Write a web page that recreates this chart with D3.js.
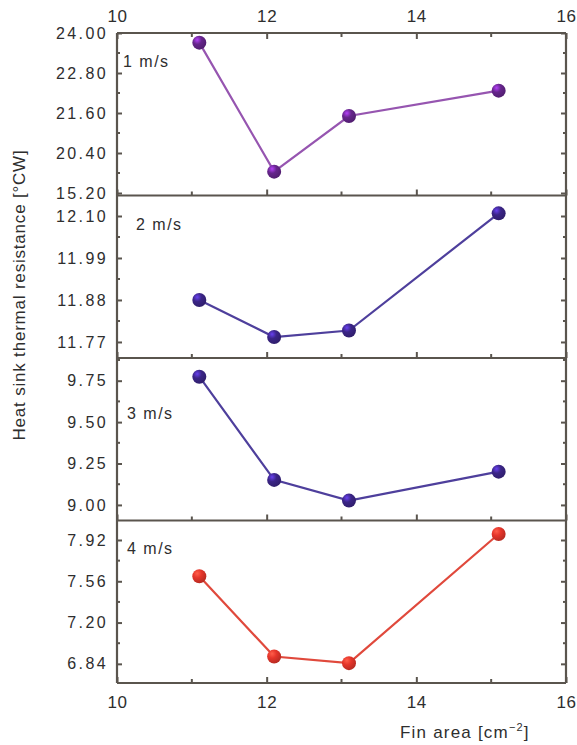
<!DOCTYPE html>
<html>
<head>
<meta charset="utf-8">
<script src="https://cdn.jsdelivr.net/npm/d3@7"></script>
<style>
  body { margin: 0; background: #fff; }
  text { font-family: "Liberation Sans", Arial, sans-serif; fill: #2e2e2e; }
</style>
</head>
<body>
<div class="chart"></div>
<script>
// fin area values (x) shared by all panels
const finArea = [11.1, 12.1, 13.1, 15.1];

// thermal resistance per air velocity
const speeds = ['1 m/s', '2 m/s', '3 m/s', '4 m/s'];
const res1 = [23.71, 19.84, 21.51, 22.27];
const res2 = [11.880, 11.783, 11.800, 12.107];
const res3 = [9.774, 9.151, 9.026, 9.201];
const res4 = [7.604, 6.904, 6.846, 7.972];

// y tick values and their printed labels
const ticks1 = [19.2, 20.4, 21.6, 22.8, 24.0];
const labels1 = ['15.20', '20.40', '21.60', '22.80', '24.00'];
const ticks2 = [11.77, 11.88, 11.99, 12.10];
const labels2 = ['11.77', '11.88', '11.99', '12.10'];
const ticks3 = [9.00, 9.25, 9.50, 9.75];
const labels3 = ['9.00', '9.25', '9.50', '9.75'];
const ticks4 = [6.84, 7.20, 7.56, 7.92];
const labels4 = ['6.84', '7.20', '7.56', '7.92'];

const xTicks = [10, 12, 14, 16];
const xMinor = [11, 13, 15];

const W = 577, H = 745;
const plotLeft = 117, plotRight = 566, plotTop = 33, plotBottom = 683;
const panelH = (plotBottom - plotTop) / 4;

const panels = [
  {label: speeds[0], values: res1, ticks: ticks1, labels: labels1, domain: [19.125, 24.0],
   line: '#9655b0', dot: '#66258c', lx: 123, ly: 34},
  {label: speeds[1], values: res2, ticks: ticks2, labels: labels2, domain: [11.728, 12.1537],
   line: '#4e3f9c', dot: '#3b2587', lx: 136, ly: 34},
  {label: speeds[2], values: res3, ticks: ticks3, labels: labels3, domain: [8.906, 9.887],
   line: '#4e3f9c', dot: '#3b2587', lx: 127, ly: 61},
  {label: speeds[3], values: res4, ticks: ticks4, labels: labels4, domain: [6.673, 8.090],
   line: '#e0493c', dot: '#e5352a', lx: 127, ly: 33}
];

const axisColor = '#5a554e';
const fontFamily = '"Liberation Sans", Arial, sans-serif';

const x = d3.scaleLinear().domain([10, 16]).range([plotLeft, plotRight]);

const svg = d3.select('.chart').append('svg')
  .attr('width', W)
  .attr('height', H);

const defs = svg.append('defs');
panels.forEach((p, i) => {
  const g = defs.append('radialGradient')
    .attr('id', `ball${i}`)
    .attr('cx', '35%').attr('cy', '30%').attr('r', '70%');
  g.append('stop').attr('offset', '0%').attr('stop-color', d3.color(p.dot).brighter(1.6));
  g.append('stop').attr('offset', '45%').attr('stop-color', p.dot);
  g.append('stop').attr('offset', '100%').attr('stop-color', d3.color(p.dot).darker(0.6));
});

panels.forEach((p, i) => {
  const y0 = plotTop + i * panelH;
  const y = d3.scaleLinear().domain(p.domain).range([y0 + panelH, y0]);
  const g = svg.append('g');

  // minor y ticks halfway between majors
  const step = p.ticks[1] - p.ticks[0];
  const minor = [];
  p.ticks.forEach(t => {
    [t - step / 2, t + step / 2].forEach(m => {
      if (m > p.domain[0] && m < p.domain[1] && !minor.some(v => Math.abs(v - m) < 1e-6)) minor.push(m);
    });
  });

  // left axis
  const yAxis = d3.axisLeft(y)
    .tickValues(p.ticks)
    .tickSize(-5)
    .tickPadding(9)
    .tickFormat((d, k) => p.labels[k]);
  const gl = g.append('g')
    .attr('transform', `translate(${plotLeft},0)`)
    .call(yAxis);
  gl.select('.domain').remove();
  gl.selectAll('line').attr('stroke', axisColor).attr('stroke-width', 2);
  gl.selectAll('text')
    .attr('font-size', 16)
    .attr('letter-spacing', '2.4px')
    .style('font-family', fontFamily)
    .attr('fill', '#2e2e2e');

  g.selectAll('.yminor-l')
    .data(minor)
    .enter().append('line')
      .attr('x1', plotLeft).attr('x2', plotLeft + 3)
      .attr('y1', d => y(d)).attr('y2', d => y(d))
      .attr('stroke', axisColor).attr('stroke-width', 2);

  // right axis ticks (mirrored, no labels)
  const gr = g.append('g')
    .attr('transform', `translate(${plotRight},0)`)
    .call(d3.axisRight(y).tickValues(p.ticks).tickSize(-5).tickFormat(''));
  gr.select('.domain').remove();
  gr.selectAll('line').attr('stroke', axisColor).attr('stroke-width', 2);
  g.selectAll('.yminor-r')
    .data(minor)
    .enter().append('line')
      .attr('x1', plotRight).attr('x2', plotRight - 3)
      .attr('y1', d => y(d)).attr('y2', d => y(d))
      .attr('stroke', axisColor).attr('stroke-width', 2);

  // bottom ticks of panel, pointing inward
  const gb = g.append('g')
    .attr('transform', `translate(0,${y0 + panelH})`)
    .call(d3.axisBottom(x).tickValues(xTicks).tickSize(-6).tickFormat(i === 3 ? d3.format('d') : ''));
  gb.select('.domain').remove();
  gb.selectAll('line').attr('stroke', axisColor).attr('stroke-width', 2);
  gb.selectAll('text')
    .attr('font-size', 17)
    .attr('letter-spacing', '0.6px')
    .attr('dy', '1.3em')
    .style('font-family', fontFamily)
    .attr('fill', '#2e2e2e');
  g.selectAll('.xminor')
    .data(xMinor)
    .enter().append('line')
      .attr('x1', d => x(d)).attr('x2', d => x(d))
      .attr('y1', y0 + panelH).attr('y2', y0 + panelH - 4)
      .attr('stroke', axisColor).attr('stroke-width', 2);

  // line + balls
  const pts = finArea.map((f, k) => ({f: f, v: p.values[k]}));
  const line = d3.line().x(d => x(d.f)).y(d => y(d.v));
  g.append('path')
    .attr('d', line(pts))
    .attr('fill', 'none')
    .attr('stroke', p.line)
    .attr('stroke-width', 2.2);
  g.selectAll('circle')
    .data(pts)
    .enter().append('circle')
      .attr('cx', d => x(d.f))
      .attr('cy', d => y(d.v))
      .attr('r', 7)
      .attr('fill', `url(#ball${i})`);

  g.append('text')
    .attr('x', p.lx)
    .attr('y', y0 + p.ly)
    .attr('font-size', 16)
    .attr('letter-spacing', '1.5px')
    .text(p.label);

  // horizontal frame line below panel
  svg.append('line')
    .attr('x1', plotLeft).attr('x2', plotRight)
    .attr('y1', y0 + panelH).attr('y2', y0 + panelH)
    .attr('stroke', axisColor).attr('stroke-width', 2.2);
});

// top axis of the first panel
const gt = svg.append('g')
  .attr('transform', `translate(0,${plotTop})`)
  .call(d3.axisTop(x).tickValues(xTicks).tickSize(-6).tickFormat(d3.format('d')));
gt.select('.domain').remove();
gt.selectAll('line').attr('stroke', axisColor).attr('stroke-width', 2);
gt.selectAll('text')
  .attr('font-size', 17)
  .attr('letter-spacing', '0.6px')
  .attr('dy', '-0.45em')
  .style('font-family', fontFamily)
  .attr('fill', '#2e2e2e');
svg.selectAll('.xminor-top')
  .data(xMinor)
  .enter().append('line')
    .attr('x1', d => x(d)).attr('x2', d => x(d))
    .attr('y1', plotTop).attr('y2', plotTop + 4)
    .attr('stroke', axisColor).attr('stroke-width', 2);

// outer frame
svg.append('line').attr('x1', plotLeft).attr('x2', plotRight).attr('y1', plotTop).attr('y2', plotTop)
  .attr('stroke', axisColor).attr('stroke-width', 2.2);
svg.append('line').attr('x1', plotLeft).attr('x2', plotLeft).attr('y1', plotTop).attr('y2', plotBottom)
  .attr('stroke', axisColor).attr('stroke-width', 2.2);
svg.append('line').attr('x1', plotRight).attr('x2', plotRight).attr('y1', plotTop).attr('y2', plotBottom)
  .attr('stroke', axisColor).attr('stroke-width', 2.2);

// axis titles
svg.append('text')
  .attr('transform', `translate(25, ${(150 + 440) / 2}) rotate(-90)`)
  .attr('text-anchor', 'middle')
  .attr('font-size', 17)
  .attr('letter-spacing', '0.8px')
  .text('Heat sink thermal resistance [°CW]');

const xt = svg.append('text')
  .attr('x', 400)
  .attr('y', 738)
  .attr('font-size', 17)
  .attr('letter-spacing', '1.2px');
xt.append('tspan').text('Fin area [cm');
xt.append('tspan').attr('dy', -7).attr('font-size', 11).text('−2');
xt.append('tspan').attr('dy', 7).text(']');
</script>
</body>
</html>
